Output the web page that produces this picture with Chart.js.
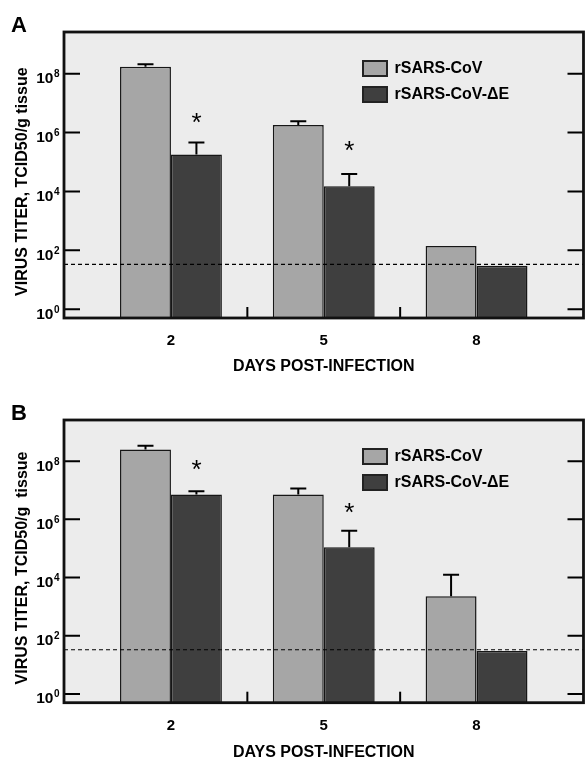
<!DOCTYPE html>
<html>
<head>
<meta charset="utf-8">
<script src="https://cdn.jsdelivr.net/npm/chart.js@4.4.1/dist/chart.umd.min.js"></script>
<style>
  html, body { margin: 0; padding: 0; background: #ffffff; overflow: hidden; }
  #wrap { position: relative; width: 585px; height: 760px; }
  .panel { position: absolute; left: 0; width: 585px; height: 380px; }
  #pa { top: 0; }
  #pb { top: 380px; }
</style>
</head>
<body>
<div id="wrap">
  <div class="panel" id="pa"><canvas id="chartA" width="585" height="380"></canvas></div>
  <div class="panel" id="pb"><canvas id="chartB" width="585" height="380"></canvas></div>
</div>
<script>
// ---------------- DATA ----------------
const days = [2, 5, 8];
const seriesNames = ['rSARS-CoV', 'rSARS-CoV-\u0394E'];
const yTickValues = [1, 1e2, 1e4, 1e6, 1e8];
const detectionLimit = 33;

// Panel A
const titerA_wt = [1.7e8, 1.8e6, 140];
const titerA_dE = [1.8e5, 1.5e4, 30];
const errA_wt = [2.1e8, 2.4e6, null];
const errA_dE = [4.6e5, 3.9e4, null];
const starA_dE = [3.0e6, 3.6e5, null];

// Panel B
const titerB_wt = [2.5e8, 7.2e6, 2.3e3];
const titerB_dE = [7.2e6, 1.1e5, 30];
const errB_wt = [3.4e8, 1.16e7, 1.25e4];
const errB_dE = [9.3e6, 4.1e5, null];
const starB_dE = [7.3e7, 2.4e6, null];

// ---------------- STYLE ----------------
const FONT = '"Liberation Sans", Arial, Helvetica, sans-serif';
const COL_WT = '#a6a6a6';
const COL_DE = '#3f3f3f';
const COL_EDGE = '#161616';
const COL_BG = '#ececec';

Chart.defaults.font.family = FONT;
Chart.defaults.color = '#000';

const panelPlugin = {
  id: 'panel',
  beforeDraw(chart, args, o) {
    const {ctx, chartArea: a} = chart;
    ctx.save();
    ctx.fillStyle = COL_BG;
    ctx.fillRect(a.left, a.top, a.right - a.left, a.bottom - a.top);
    ctx.restore();
  },
  afterDatasetsDraw(chart, args, o) {
    const {ctx, chartArea: a} = chart;
    const ys = chart.scales.y;
    ctx.save();
    // error bars (upper only)
    ctx.strokeStyle = '#000';
    ctx.lineWidth = 2;
    chart.data.datasets.forEach((ds, i) => {
      const meta = chart.getDatasetMeta(i);
      const errs = o.errors[i];
      meta.data.forEach((el, j) => {
        if (errs[j] == null) return;
        const yTop = el.y;
        const yE = ys.getPixelForValue(errs[j]);
        ctx.beginPath();
        ctx.moveTo(el.x, yTop);
        ctx.lineTo(el.x, yE);
        ctx.moveTo(el.x - 8, yE);
        ctx.lineTo(el.x + 8, yE);
        ctx.stroke();
      });
    });
    // detection limit dashed line
    const yl = ys.getPixelForValue(o.limit);
    ctx.beginPath();
    ctx.setLineDash([4, 3]);
    ctx.lineWidth = 1.2;
    ctx.moveTo(a.left, yl);
    ctx.lineTo(a.right, yl);
    ctx.stroke();
    ctx.setLineDash([]);
    // asterisks
    ctx.fillStyle = '#000';
    ctx.font = '26px ' + FONT;
    ctx.textAlign = 'left';
    ctx.textBaseline = 'alphabetic';
    const meta1 = chart.getDatasetMeta(1);
    o.stars.forEach((v, j) => {
      if (v == null) return;
      const el = meta1.data[j];
      const cy = ys.getPixelForValue(v);
      const m = ctx.measureText('*');
      const gx = el.x - (m.actualBoundingBoxRight - m.actualBoundingBoxLeft) / 2 + m.actualBoundingBoxLeft;
      const gy = cy + (m.actualBoundingBoxAscent - m.actualBoundingBoxDescent) / 2;
      ctx.fillText('*', gx, gy);
    });
    ctx.restore();
  },
  afterDraw(chart, args, o) {
    const {ctx, chartArea: a} = chart;
    const ys = chart.scales.y, xs = chart.scales.x;
    ctx.save();
    // inward tick marks
    ctx.strokeStyle = '#000';
    ctx.lineWidth = 2;
    ys.ticks.forEach(t => {
      const py = ys.getPixelForValue(t.value);
      ctx.beginPath();
      ctx.moveTo(a.left, py); ctx.lineTo(a.left + 16, py);
      ctx.moveTo(a.right - 16, py); ctx.lineTo(a.right, py);
      ctx.stroke();
    });
    for (let i = 0; i < days.length - 1; i++) {
      const px = xs.getPixelForValue((days[i] + days[i + 1]) / 2);
      ctx.beginPath();
      ctx.moveTo(px, a.bottom); ctx.lineTo(px, a.bottom - 11);
      ctx.stroke();
    }
    // frame
    ctx.lineWidth = 2.8;
    ctx.strokeStyle = '#111';
    ctx.strokeRect(a.left, a.top, a.right - a.left, a.bottom - a.top);
    // y tick labels 10^n
    ctx.fillStyle = '#000';
    ctx.textBaseline = 'alphabetic';
    ys.ticks.forEach(t => {
      const py = ys.getPixelForValue(t.value);
      const ex = String(Math.round(Math.log10(t.value)));
      ctx.font = 'bold 10px ' + FONT;
      const ew = ctx.measureText(ex).width;
      const right = a.left - 4.5;
      ctx.textAlign = 'left';
      ctx.fillText(ex, right - ew, py + 3.5);
      ctx.font = 'bold 15.5px ' + FONT;
      ctx.textAlign = 'right';
      ctx.fillText('10', right - ew - 0.5, py + 9.5);
    });
    // legend
    ctx.font = 'bold 16px ' + FONT;
    ctx.textAlign = 'left';
    ctx.textBaseline = 'middle';
    chart.data.datasets.forEach((ds, i) => {
      const bx = a.left + o.legendX;
      const by = a.top + o.legendY + i * 26;
      ctx.fillStyle = ds.backgroundColor;
      ctx.fillRect(bx, by, 24, 15);
      ctx.lineWidth = 2;
      ctx.strokeStyle = '#222';
      ctx.strokeRect(bx, by, 24, 15);
      ctx.fillStyle = '#000';
      ctx.fillText(ds.label, bx + 31.5, by + 8);
    });
    // panel letter
    ctx.font = 'bold 22px ' + FONT;
    ctx.textAlign = 'left';
    ctx.textBaseline = 'alphabetic';
    ctx.fillText(o.letter, 11, o.letterY);
    ctx.restore();
  }
};

function makeChart(id, wt, dE, errWt, errDE, stars, letter, cfg) {
  const toPts = arr => days.map((d, i) => ({x: d, y: arr[i]}));
  return new Chart(document.getElementById(id), {
    type: 'bar',
    data: {
      datasets: [
        {label: seriesNames[0], data: toPts(wt), backgroundColor: COL_WT, borderColor: COL_EDGE, borderWidth: 1.5},
        {label: seriesNames[1], data: toPts(dE), backgroundColor: COL_DE, borderColor: COL_EDGE, borderWidth: 1.5}
      ]
    },
    options: {
      responsive: false,
      animation: false,
      events: [],
      devicePixelRatio: 1,
      layout: {padding: {top: cfg.top, right: 1.5, left: 0, bottom: 0}},
      datasets: {bar: {categoryPercentage: 2 / 3, barPercentage: 1.0}},
      plugins: {
        legend: {display: false},
        tooltip: {enabled: false},
        panel: {errors: [errWt, errDE], stars: stars, limit: detectionLimit, letter: letter,
                letterY: cfg.letterY, legendX: 299, legendY: 29}
      },
      scales: {
        x: {
          type: 'linear',
          min: -0.1, max: 10.1,
          offset: false,
          grid: {display: false, drawTicks: false},
          border: {display: false},
          afterBuildTicks: s => { s.ticks = days.map(d => ({value: d})); },
          afterFit: s => { s.height = cfg.xh; },
          ticks: {autoSkip: false, maxRotation: 0, padding: cfg.xpad, font: {size: 15, weight: 'bold'}, color: '#000',
                  callback: v => String(v)},
          title: {display: true, text: 'DAYS POST-INFECTION', font: {size: 16, weight: 'bold', lineHeight: 1.2},
                  color: '#000', padding: {top: 0, bottom: cfg.xtpad}}
        },
        y: {
          type: 'logarithmic',
          min: 0.5, max: 2.6e9,
          grid: {display: false, drawTicks: false},
          border: {display: false},
          afterBuildTicks: s => { s.ticks = yTickValues.map(v => ({value: v})); },
          afterFit: s => { s.width = 64; },
          ticks: {display: false},
          title: {display: true, text: cfg.ytitle, font: {size: 16, weight: 'bold', lineHeight: 1.2},
                  color: '#000', padding: {top: 13, bottom: 0}}
        }
      }
    },
    plugins: [panelPlugin]
  });
}

makeChart('chartA', titerA_wt, titerA_dE, errA_wt, errA_dE, starA_dE, 'A',
  {top: 32, xh: 62, xpad: 14, xtpad: 4, letterY: 32, ytitle: 'VIRUS TITER, TCID50/g tissue   '});
makeChart('chartB', titerB_wt, titerB_dE, errB_wt, errB_dE, starB_dE, 'B',
  {top: 40, xh: 57.3, xpad: 14.5, xtpad: -2, letterY: 40, ytitle: 'VIRUS TITER, TCID50/g  tissue   '});
</script>
</body>
</html>
